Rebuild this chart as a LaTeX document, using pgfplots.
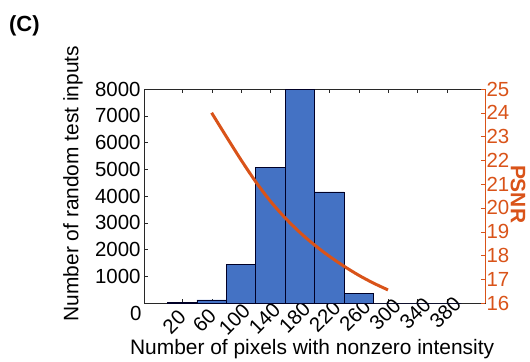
\documentclass[border=0pt]{standalone}
\usepackage{pgfplots}
\pgfplotsset{compat=1.18}
\usepackage{fontspec}
\setmainfont{Liberation Sans}
\definecolor{barblue}{RGB}{68,114,196}
\definecolor{psnr}{RGB}{217,83,25}
\definecolor{axgray}{RGB}{40,40,40}
\begin{document}
\begin{tikzpicture}[x=1bp,y=1bp]
\useasboundingbox (0,0) rectangle (530,361);
\node[anchor=west,inner sep=0pt,font=\fontsize{22}{26}\selectfont\bfseries] at (9,335) {(C)};
\begin{axis}[
  at={(144bp,58bp)}, anchor=south west,
  width=341bp, height=214bp, scale only axis,
  xmin=-32, xmax=432, ymin=0, ymax=8000,
  xtick={20,60,...,380}, ytick={1000,2000,...,8000},
  ytick pos=left,
  tick align=inside, major tick length=4bp,
  scaled y ticks=false,
  /pgf/number format/assume math mode=true,
  /pgf/number format/1000 sep={},
  ticklabel style={font=\fontsize{20.5}{24}\selectfont},
  xticklabel style={xshift={-8bp+0.72bp*\ticknum}, yshift={-19bp+1.05bp*\ticknum},
    rotate=45, anchor=center, inner sep=0pt},
  axis line style={axgray}, tick style={axgray},
  extra y ticks={0},
  extra y tick style={yticklabel style={xshift=1bp,yshift=-10bp}, major tick length=0pt},
  xlabel={Number of pixels with nonzero intensity},
  ylabel={Number of random test inputs},
  label style={font=\fontsize{21}{25}\selectfont},
  xlabel style={at={(axis description cs:0.493,-0.215)}, anchor=center},
  ylabel style={at={(axis description cs:-0.208,0.558)}, anchor=center},
]
\addplot[ybar interval, fill=barblue, draw=black!85!blue, line width=0.8bp] coordinates {
  (0,8) (40,115) (80,1440) (120,5080) (160,8000) (200,4150) (240,370)
  (280,0) (320,0) (360,0) (400,0)
};
\end{axis}
\begin{axis}[
  at={(144bp,58bp)}, anchor=south west,
  width=341bp, height=214bp, scale only axis,
  xmin=-32, xmax=432, ymin=16, ymax=25,
  axis y line*=right, axis x line=none,
  ytick={16,17,...,25},
  tick align=inside, major tick length=4bp,
  /pgf/number format/assume math mode=true,
  y axis line style={psnr}, ytick style={psnr},
  yticklabel style={psnr, font=\fontsize{20.5}{24}\selectfont, xshift=-2bp},
  ylabel={PSNR},
  ylabel style={psnr, font=\fontsize{21}{25}\selectfont\bfseries,
    at={(axis description cs:1.097,0.509)}, anchor=center, rotate=180},
]
\addplot[psnr, line width=3bp, smooth] coordinates {
  (60,24.0) (80,23.0) (100,22.02) (120,21.10) (140,20.28) (160,19.58)
  (180,18.97) (200,18.44) (220,17.97) (240,17.55) (260,17.17) (280,16.84) (300,16.55)
};
\end{axis}
\end{tikzpicture}
\end{document}
